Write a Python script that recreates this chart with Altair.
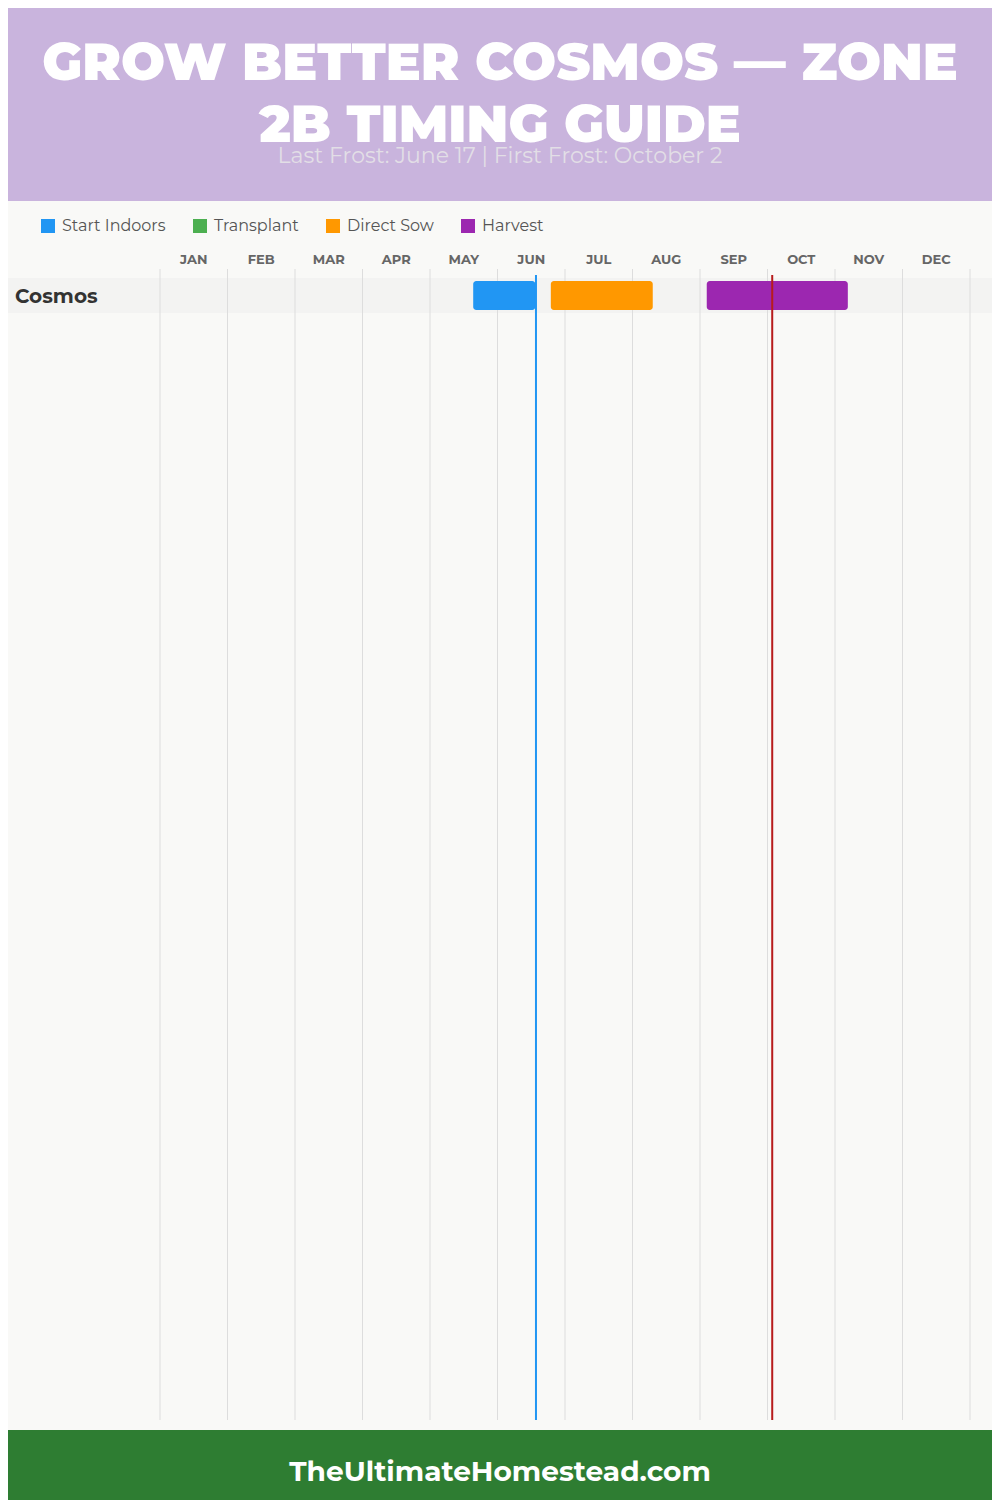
import altair as alt
import pandas as pd

# ---- data ----
crops = ["Cosmos"]
tasks = ["Start Indoors", "Direct Sow", "Harvest"]
task_crop = ["Cosmos", "Cosmos", "Cosmos"]
task_start = [4.64, 5.79, 8.10]   # month units (0 = Jan 1)
task_end = [5.56, 7.30, 10.19]
legend_tasks = ["Start Indoors", "Transplant", "Direct Sow", "Harvest"]
legend_colors = ["#2196F3", "#4CAF50", "#FF9800", "#9C27B0"]
months = ["JAN", "FEB", "MAR", "APR", "MAY", "JUN", "JUL", "AUG", "SEP", "OCT", "NOV", "DEC"]
frost_names = ["Last Frost", "First Frost"]
frost_pos = [5.57, 9.07]
frost_colors = ["#2196F3", "#B71C1C"]
title_lines = ["GROW BETTER COSMOS \u2014 ZONE", "2B TIMING GUIDE"]
subtitle = "Last Frost: June 17 | First Frost: October 2"
footer = "TheUltimateHomestead.com"

W, H = 984, 1492
CX = 492
FONT = "Montserrat, Inter, Lato, sans-serif"

bars_df = pd.DataFrame({"crop": task_crop, "task": tasks, "start": task_start, "end": task_end})
month_df = pd.DataFrame({"m": months, "mid": [i + 0.5 for i in range(12)]})
grid_df = pd.DataFrame({"g": list(range(13))})
frost_df = pd.DataFrame({"name": frost_names, "pos": frost_pos, "col": frost_colors})
row_df = pd.DataFrame({"crop": crops})
title_df = pd.DataFrame({"t": title_lines, "yy": [56, 118]})
one = pd.DataFrame({"a": [0]})

xscale = alt.Scale(domain=[-152 / 67.5, (W - 152) / 67.5], nice=False, zero=False)
yscale = alt.Scale(domain=crops, range=[270, 305], paddingInner=0, paddingOuter=0)

header = alt.Chart(one).mark_rect(color="#C9B4DD").encode(
    x=alt.value(0), x2=alt.value(W), y=alt.value(0), y2=alt.value(193))
footer_bg = alt.Chart(one).mark_rect(color="#2E7D32").encode(
    x=alt.value(0), x2=alt.value(W), y=alt.value(1422), y2=alt.value(H))

title = alt.Chart(title_df).mark_text(
    font=FONT, fontWeight=900, fontSize=52, color="white", baseline="middle", align="center"
).encode(text="t:N", x=alt.value(CX), y=alt.Y("yy:Q", scale=None))

sub = alt.Chart(one).mark_text(
    font=FONT, fontWeight=400, fontSize=22, color="#E2DEE6", baseline="middle", align="center",
    text=subtitle).encode(x=alt.value(CX), y=alt.value(148))

foot = alt.Chart(one).mark_text(
    font=FONT, fontWeight="bold", fontSize=28, color="white", baseline="middle", align="center",
    text=footer).encode(x=alt.value(CX), y=alt.value(1465))

row_bg = alt.Chart(row_df).mark_rect(color="#F3F3F2").encode(
    y=alt.Y("crop:N", scale=yscale, axis=None), x=alt.value(0), x2=alt.value(W))

row_lbl = alt.Chart(row_df).mark_text(
    font=FONT, fontWeight="bold", fontSize=20, color="#333333", align="left", baseline="middle"
).encode(text="crop:N", x=alt.value(7), y=alt.Y("crop:N", scale=yscale, axis=None, bandPosition=0.55))

grid = alt.Chart(grid_df).mark_rule(color="#DDDDDD", strokeWidth=1).encode(
    x=alt.X("g:Q", scale=xscale, axis=None), y=alt.value(261), y2=alt.value(1412))

mlabels = alt.Chart(month_df).mark_text(
    font=FONT, fontWeight="bold", fontSize=13, color="#666666", baseline="middle", align="center"
).encode(text="m:N", x=alt.X("mid:Q", scale=xscale, axis=None), y=alt.value(252))

bars = alt.Chart(bars_df).mark_bar(size=29, cornerRadius=3).encode(
    x=alt.X("start:Q", scale=xscale, axis=None),
    x2="end:Q",
    y=alt.Y("crop:N", scale=yscale, axis=None),
    color=alt.Color("task:N", scale=alt.Scale(domain=legend_tasks, range=legend_colors),
                    legend=alt.Legend(orient="none", legendX=32, legendY=210, direction="horizontal",
                                      title=None, symbolType="square", symbolSize=196,
                                      symbolStrokeWidth=0, labelFont=FONT, labelFontSize=16,
                                      labelColor="#555555", labelOffset=6,
                                      columnPadding=26, symbolOpacity=1)),
)

frost = alt.Chart(frost_df).mark_rule(strokeWidth=2).encode(
    x=alt.X("pos:Q", scale=xscale, axis=None), y=alt.value(267), y2=alt.value(1412),
    color=alt.Color("col:N", scale=None, legend=None))

chart = alt.layer(header, footer_bg, title, sub, foot, row_bg, grid, mlabels, bars, frost, row_lbl).properties(
    width=W, height=H, padding=0, autosize=alt.AutoSizeParams(type="none"), background="#F9F9F7"
).configure_view(stroke=None).resolve_scale(color="independent")

chart.save("out.html", embed_options={"renderer": "svg", "actions": False})
